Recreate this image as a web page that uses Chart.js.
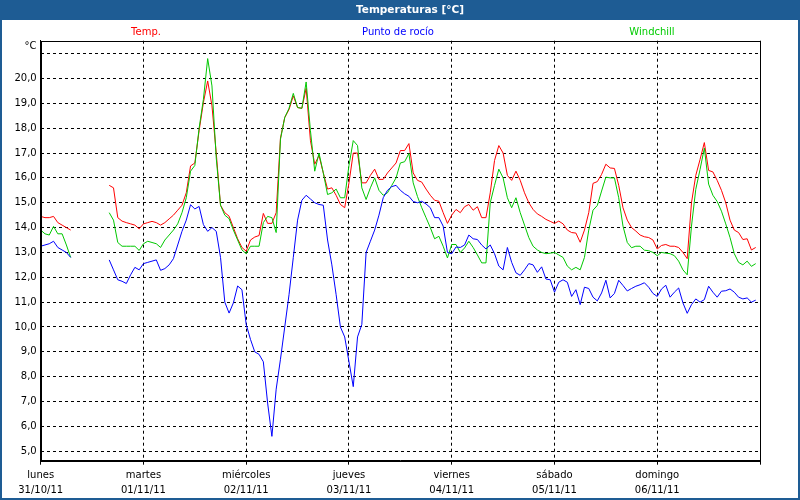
<!DOCTYPE html>
<html>
<head>
<meta charset="utf-8">
<script src="https://cdn.jsdelivr.net/npm/chart.js@4.4.1/dist/chart.umd.min.js"></script>
<style>
html,body{margin:0;padding:0;background:#fff;}
#wrap{width:800px;height:500px;position:relative;}
</style>
</head>
<body>
<div id="wrap"><canvas id="c" width="800" height="500"></canvas></div>
<script>
const chartTitle = 'Temperaturas [°C]';
const seriesNames = ['Temp.', 'Punto de rocío', 'Windchill'];
const seriesColors = ['#ff0000', '#0000ff', '#00c800'];
const legendColors = ['#ff0000', '#0000ff', '#00cc00'];
const dayNames = ['lunes', 'martes', 'miércoles', 'jueves', 'viernes', 'sábado', 'domingo'];
const dayDates = ['31/10/11', '01/11/11', '02/11/11', '03/11/11', '04/11/11', '05/11/11', '06/11/11'];
const yUnit = '°C';
const N = null;

// hourly readings starting Monday 31/10/11 00:00
const temp = [
14.45,14.4,14.4,14.45,14.2,14.1,14.0,13.9,
N,N,N,N,N,N,N,N,
15.7,15.6,14.4,14.26,14.2,14.15,14.1,13.95,
14.15,14.2,14.25,14.2,14.1,14.2,14.35,14.5,
14.7,14.9,15.4,16.48,16.6,17.9,19.03,19.9,
18.9,17.0,14.9,14.6,14.46,14.0,13.55,13.2,
13.05,13.5,13.62,13.68,14.57,14.17,14.17,14.6,
17.6,18.43,18.75,19.3,18.83,18.8,19.6,17.5,
16.55,16.9,16.2,15.55,15.6,15.3,14.93,14.8,
15.8,17.0,17.0,15.8,15.8,16.1,16.35,15.94,
15.94,16.2,16.4,16.6,17.1,17.1,17.38,16.2,
15.9,15.83,15.55,15.3,15.1,15.06,14.6,14.17,
14.5,14.73,14.6,14.84,14.93,14.7,14.84,14.4,
14.4,15.4,16.7,17.3,17.0,16.1,15.9,16.27,
15.9,15.4,15.0,14.73,14.55,14.45,14.33,14.25,
14.17,14.26,14.15,13.9,13.8,13.78,13.41,13.9,
14.6,15.78,15.85,16.14,16.55,16.4,16.38,15.7,
14.8,14.3,14.0,13.86,13.7,13.63,13.6,13.5,
13.14,13.28,13.32,13.25,13.25,13.2,13.0,12.75,
15.0,16.1,16.74,17.42,16.3,16.24,15.9,15.5,
15.0,14.3,13.9,13.8,13.52,13.55,13.1,13.2
];
const dew = [
13.25,13.3,13.35,13.45,13.2,13.1,13.0,12.8,
N,N,N,N,N,N,N,N,
12.7,12.3,11.9,11.84,11.75,12.1,12.4,12.3,
12.55,12.6,12.65,12.7,12.28,12.35,12.5,12.75,
13.3,13.85,14.3,14.92,14.75,14.85,14.12,13.85,
14.0,13.85,12.8,11.0,10.56,10.97,11.65,11.5,
10.1,9.5,9.0,8.9,8.6,6.94,5.6,7.5,
8.7,10.0,11.3,12.8,14.3,15.1,15.3,15.15,
15.0,14.93,14.9,13.5,12.5,11.3,10.0,9.6,
8.6,7.6,9.6,10.1,13.0,13.45,13.9,14.5,
15.2,15.5,15.65,15.7,15.5,15.36,15.26,15.05,
15.0,15.06,14.95,14.8,14.4,14.4,14.06,13.0,
12.95,13.22,13.2,13.3,13.7,13.55,13.52,13.3,
13.14,13.3,12.95,12.45,12.3,13.2,12.6,12.18,
12.08,12.3,12.55,12.5,12.2,12.42,11.93,11.9,
11.4,11.8,11.9,11.8,11.23,11.5,10.9,11.6,
11.55,11.2,11.05,11.37,11.88,11.17,11.35,11.88,
11.67,11.45,11.55,11.64,11.7,11.78,11.6,11.35,
11.23,11.53,11.68,11.2,11.4,11.57,10.97,10.55,
10.9,11.13,11.0,11.1,11.64,11.4,11.2,11.44,
11.46,11.53,11.4,11.2,11.13,11.17,11.0,11.08
];
const windchill = [
13.9,13.75,13.7,14.05,13.75,13.75,13.3,12.8,
N,N,N,N,N,N,N,N,
14.6,14.3,13.4,13.25,13.25,13.25,13.25,13.08,
13.35,13.45,13.4,13.35,13.2,13.5,13.7,13.9,
14.15,14.6,15.2,16.27,16.5,18.0,19.16,20.8,
19.7,16.8,14.9,14.5,14.36,13.9,13.5,13.1,
12.95,13.25,13.25,13.25,14.2,14.45,14.4,13.8,
17.55,18.43,18.8,19.4,18.83,18.8,19.86,17.9,
16.27,17.0,16.2,15.33,15.4,15.55,15.2,15.2,
16.5,17.5,17.3,15.6,15.13,15.6,16.0,15.5,
15.3,15.4,15.7,16.0,16.6,16.65,16.98,15.8,
15.25,14.8,14.4,14.0,13.55,13.65,13.25,12.78,
13.32,13.32,13.0,13.18,13.45,13.2,12.9,12.58,
12.58,15.0,15.7,16.35,16.0,15.2,14.8,15.2,
14.6,14.1,13.6,13.25,13.1,13.0,12.95,12.97,
13.0,12.9,12.8,12.45,12.3,12.4,12.3,12.8,
13.9,14.7,14.89,15.47,16.03,16.0,16.0,15.2,
14.06,13.4,13.19,13.25,13.25,13.09,13.07,13.0,
12.87,13.0,12.97,12.95,12.87,12.65,12.3,12.1,
14.06,15.54,16.34,17.2,15.75,15.3,15.05,14.66,
14.15,13.6,12.95,12.6,12.5,12.65,12.44,12.55
];

const FONT = '"DejaVu Sans", Verdana, sans-serif';
const toPts = arr => arr.map((v, i) => ({x: i, y: v}));

const framePlugin = {
  id: 'frame',
  beforeDraw(chart) {
    const ctx = chart.ctx;
    ctx.save();
    ctx.fillStyle = '#ffffff';
    ctx.fillRect(0, 0, 800, 500);
    ctx.fillStyle = '#1e5c94';
    ctx.fillRect(0, 0, 800, 20);
    ctx.fillRect(0, 0, 2, 500);
    ctx.fillRect(798, 0, 2, 500);
    ctx.fillRect(0, 498, 800, 2);
    ctx.fillStyle = '#ffffff';
    ctx.font = 'bold 10.5px ' + FONT;
    ctx.textAlign = 'center';
    ctx.textBaseline = 'middle';
    ctx.fillText(chartTitle, 410, 10.5);
    // legend
    ctx.font = '10px ' + FONT;
    const lx = [146, 398, 652];
    seriesNames.forEach((n, i) => {
      ctx.fillStyle = legendColors[i];
      ctx.fillText(n, lx[i], 32);
    });
    ctx.fillStyle = '#000';
    ctx.textAlign = 'right';
    ctx.fillText(yUnit, 36.5, 46);
    ctx.restore();
  },
  afterDraw(chart) {
    const a = chart.chartArea;
    const ctx = chart.ctx;
    ctx.save();
    ctx.strokeStyle = '#000';
    ctx.lineWidth = 1;
    ctx.setLineDash([]);
    ctx.strokeRect(Math.round(a.left) + 0.5, Math.round(a.top) + 0.5,
      Math.round(a.right - a.left), Math.round(a.bottom - a.top));
    ctx.restore();
  }
};

const mk = (label, data, color) => ({
  label, data: toPts(data), borderColor: color, backgroundColor: color,
  borderWidth: 1, pointRadius: 0, tension: 0, spanGaps: false, fill: false
});

new Chart(document.getElementById('c'), {
  type: 'line',
  data: {
    datasets: [
      mk(seriesNames[1], dew, seriesColors[1]),
      mk(seriesNames[2], windchill, seriesColors[2]),
      mk(seriesNames[0], temp, seriesColors[0])
    ]
  },
  options: {
    responsive: false,
    animation: false,
    devicePixelRatio: 1,
    layout: {padding: {left: 0, right: 40, top: 40.7, bottom: 0}},
    plugins: {legend: {display: false}, title: {display: false}, tooltip: {enabled: false}},
    scales: {
      x: {
        type: 'linear', min: 0, max: 168,
        afterFit: s => { s.height = 39.3; },
        border: {display: true, color: '#000', width: 1, dash: [3, 3]},
        grid: {color: '#000', lineWidth: 1, drawTicks: true, tickLength: 4,
               tickColor: '#000', tickBorderDash: []},
        ticks: {
          stepSize: 24, autoSkip: false, maxRotation: 0, padding: 3,
          color: '#000', font: {family: FONT, size: 10, lineHeight: 1.5},
          callback: v => { const d = Math.round(v / 24); return d < dayNames.length ? [dayNames[d], dayDates[d]] : ''; }
        }
      },
      y: {
        type: 'linear', min: 4.62, max: 21.52,
        afterFit: s => { s.width = 40.7; },
        border: {display: true, color: '#000', width: 1, dash: [3, 3]},
        grid: {color: '#000', lineWidth: 1, drawTicks: false},
        ticks: {
          stepSize: 1, includeBounds: false, padding: 4, color: '#000',
          font: {family: FONT, size: 10},
          callback: v => v >= 21 ? '' : v.toFixed(1).replace('.', ',')
        }
      }
    }
  },
  plugins: [framePlugin]
});
</script>
</body>
</html>
